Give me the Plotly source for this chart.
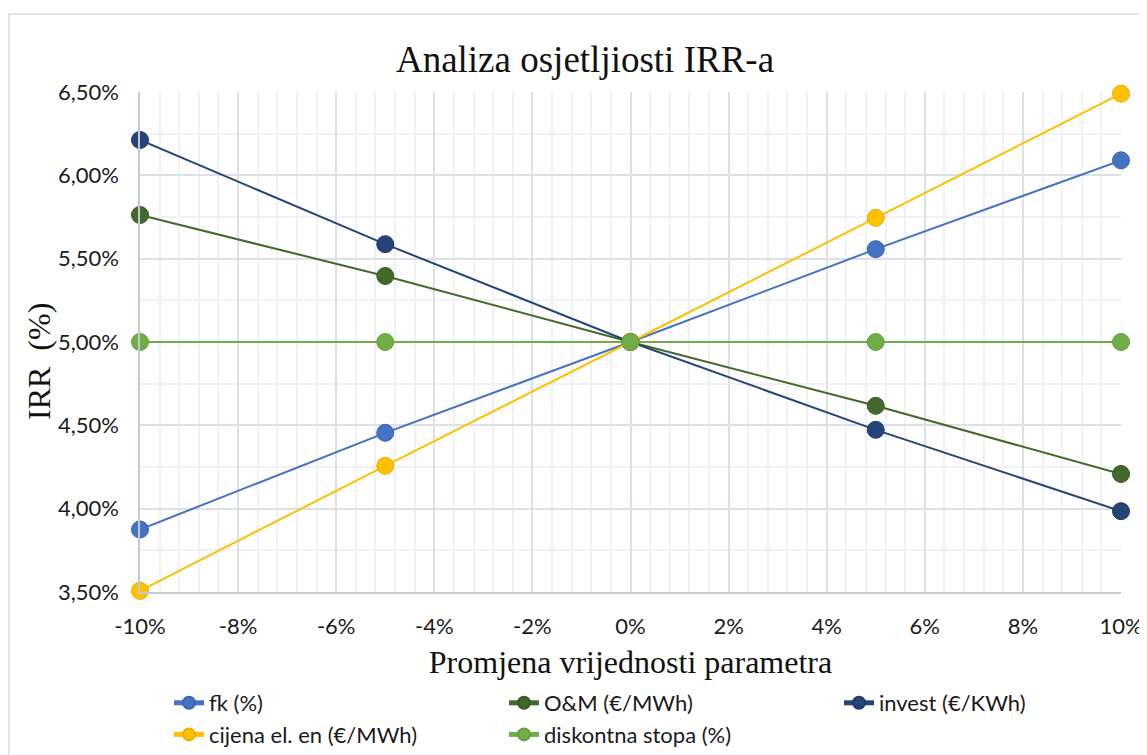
import plotly.graph_objects as go

x_vals = [-0.10, -0.05, 0.0, 0.05, 0.10]
fk = [0.03875, 0.04455, 0.05, 0.05557, 0.06090]
om = [0.05762, 0.05396, 0.05, 0.04617, 0.04208]
invest = [0.06212, 0.05587, 0.05, 0.04473, 0.03985]
cijena = [0.03507, 0.04257, 0.05, 0.05745, 0.06490]
diskontna = [0.05, 0.05, 0.05, 0.05, 0.05]

series_names = ["fk (%)", "O&M (€/MWh)", "invest (€/KWh)", "cijena el. en (€/MWh)", "diskontna stopa (%)"]
series_vals = [fk, om, invest, cijena, diskontna]
series_legend = ["legend", "legend2", "legend3", "legend", "legend2"]
colors = ["#4472C4", "#43682B", "#264478", "#FFC000", "#70AD47"]
edge_colors = ["#3A64B0", "#385A23", "#1F3A68", "#E8AE00", "#62A03C"]

x_tickvals = [-0.10, -0.08, -0.06, -0.04, -0.02, 0.0, 0.02, 0.04, 0.06, 0.08, 0.10]
x_ticktext = ["-10%", "-8%", "-6%", "-4%", "-2%", "0%", "2%", "4%", "6%", "8%", "10%"]
y_tickvals = [0.035, 0.040, 0.045, 0.050, 0.055, 0.060, 0.065]
y_ticktext = ["3,50%", "4,00%", "4,50%", "5,00%", "5,50%", "6,00%", "6,50%"]

title_text = "Analiza osjetljiosti IRR-a"
x_title = "Promjena vrijednosti parametra"
y_title = "IRR  (%)"

# page has an 8px body margin; figure drawn so that it fills the window
W, H = 1139, 747
L, R, T, B = 132, 26, 84, 163
pw, ph = W - L - R, H - T - B

fig = go.Figure()
for name, vals, c, ec, lg in zip(series_names, series_vals, colors, edge_colors, series_legend):
    fig.add_trace(go.Scatter(
        x=x_vals, y=vals, name=name, mode="lines+markers",
        line=dict(color=c, width=2),
        marker=dict(color=c, size=17, line=dict(color=ec, width=1)),
        cliponaxis=False, legend=lg,
    ))

leg_font = dict(family="Lato, 'Open Sans', sans-serif", size=22, color="#1a1a1a")
tick_font = dict(family="Lato, 'Open Sans', sans-serif", size=22, color="#1a1a1a")
serif = "'Liberation Serif', 'Times New Roman', serif"

leg_top = 1 - 674 / H
def leg(xpix):
    return dict(orientation="v", xref="container", yref="container", x=xpix / W, xanchor="left",
                y=leg_top, yanchor="top", font=leg_font, tracegroupgap=0,
                itemsizing="constant", bgcolor="rgba(0,0,0,0)")

fig.update_layout(
    width=W, height=H,
    margin=dict(l=L, r=R, t=T, b=B, autoexpand=False),
    paper_bgcolor="white", plot_bgcolor="white",
    title=dict(text=title_text, x=577 / W, xanchor="center", y=1 - 51 / H, yanchor="middle",
               font=dict(family=serif, size=37, color="#111")),
    showlegend=True,
    legend=leg(161),
    legend2=leg(496),
    legend3=leg(831),
    xaxis=dict(range=[-0.10, 0.10], tickvals=x_tickvals, ticktext=x_ticktext,
               showgrid=True, gridcolor="#DCE0E8", gridwidth=1.5,
               minor=dict(dtick=0.004, tick0=-0.10, showgrid=True, gridcolor="#F0F2F5", gridwidth=1.5),
               showline=True, linecolor="#C3CAD6", linewidth=1.5, zeroline=False,
               ticks="", ticklabelstandoff=14, tickfont=tick_font,
               title=dict(text=x_title, font=dict(family=serif, size=32, color="#111"), standoff=12)),
    yaxis=dict(range=[0.035, 0.065], tickvals=y_tickvals, ticktext=y_ticktext,
               showgrid=True, gridcolor="#DCE0E8", gridwidth=1.5,
               minor=dict(dtick=0.0025, tick0=0.035, showgrid=True, gridcolor="#F0F2F5", gridwidth=1.5),
               showline=True, linecolor="#C3CAD6", linewidth=1.5, zeroline=False,
               ticks="", ticklabelstandoff=15, tickfont=tick_font),
)

fig.add_annotation(text=y_title, textangle=-90, xref="paper", yref="paper",
                   x=(31 - L) / pw, y=(H - B - 354) / ph, xanchor="center", yanchor="middle",
                   showarrow=False, font=dict(family=serif, size=32, color="#111"))

fig.add_shape(type="rect", xref="paper", yref="paper",
              x0=(1 - L) / pw, x1=(W + 20 - L) / pw,
              y0=(H - B - (H + 20)) / ph, y1=(H - B - 6) / ph,
              line=dict(color="#D9DCE1", width=1.5), fillcolor="rgba(0,0,0,0)", layer="below")

fig.write_html("out.html")
